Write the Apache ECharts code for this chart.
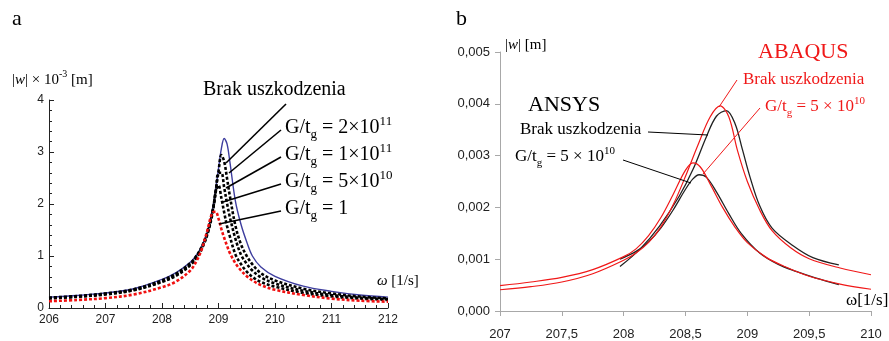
<!DOCTYPE html>
<html><head><meta charset="utf-8">
<script src="https://cdn.jsdelivr.net/npm/echarts@6/dist/echarts.min.js"></script>
<style>html,body{margin:0;padding:0;background:#fff}#c{width:889px;height:341px}</style>
</head><body><div id="c"></div>
<script>
// ---------- Panel a data (|w| x 10^-3 m) ----------
const omegaA = [206, 206.5, 207, 207.5, 208, 208.25, 208.5, 208.6, 208.7, 208.8, 208.9, 208.95, 209.0, 209.05, 209.1, 209.15, 209.2, 209.3, 209.4, 209.5, 209.6, 209.75, 210, 210.5, 211, 211.5, 212];
const brakA  = [0.21,0.24,0.29,0.37,0.55,0.68,0.88,1.00,1.18,1.46,1.92,2.28,2.68,3.06,3.26,3.16,2.82,2.05,1.60,1.27,1.00,0.79,0.61,0.42,0.32,0.25,0.21];
const g2e11A = [0.20,0.23,0.28,0.36,0.53,0.66,0.86,0.99,1.17,1.45,1.90,2.25,2.62,2.94,2.82,2.50,2.16,1.58,1.22,1.00,0.84,0.67,0.53,0.37,0.28,0.22,0.185];
const g1e11A = [0.19,0.22,0.27,0.35,0.51,0.64,0.84,0.97,1.15,1.43,1.88,2.22,2.60,2.60,2.32,2.02,1.75,1.33,1.02,0.85,0.72,0.59,0.47,0.33,0.25,0.20,0.17];
const g5e10A = [0.185,0.215,0.26,0.34,0.50,0.62,0.82,0.95,1.13,1.40,1.85,2.24,2.36,2.12,1.84,1.58,1.38,1.03,0.84,0.70,0.60,0.50,0.41,0.29,0.22,0.18,0.155];
const g1A    = [0.13,0.155,0.19,0.26,0.40,0.51,0.72,0.88,1.12,1.48,1.84,1.85,1.72,1.52,1.35,1.20,1.06,0.86,0.72,0.61,0.53,0.44,0.35,0.25,0.18,0.14,0.12];
const ticksAx = [206, 212, 1];
const ticksAy = [0, 4, 1];

// ---------- Panel b data (|w| m) ----------
const ansysBrakX = [207.97, 208.13, 208.29, 208.45, 208.56, 208.67, 208.75, 208.83, 208.9, 208.96, 209.02, 209.1, 209.2, 209.37, 209.53, 209.74];
const ansysBrakY = [0.00086,0.00119,0.00164,0.00222,0.00273,0.00337,0.00376,0.00387,0.00362,0.00312,0.00260,0.00203,0.00160,0.00126,0.00103,0.00089];
const ansys5X = [207.97, 208.1, 208.2, 208.3, 208.4, 208.5, 208.56, 208.61, 208.67, 208.75, 208.85, 208.95, 209.1, 209.25, 209.4, 209.55, 209.74];
const ansys5Y = [0.00100,0.00115,0.00133,0.00160,0.00195,0.00235,0.00255,0.00263,0.00258,0.00230,0.00188,0.00150,0.00112,0.00090,0.00076,0.00064,0.00051];
const abaqusBrakX = [207, 207.25, 207.5, 207.75, 208, 208.1, 208.2, 208.3, 208.4, 208.5, 208.6, 208.7, 208.78, 208.85, 208.92, 209, 209.1, 209.2, 209.35, 209.5, 209.75, 210];
const abaqusBrakY = [0.00041,0.00047,0.00056,0.00072,0.00098,0.00112,0.00132,0.00162,0.00205,0.00260,0.00320,0.00375,0.00396,0.00375,0.00310,0.00250,0.00195,0.00155,0.00122,0.00101,0.00083,0.00070];
const abaqus5X = [207, 207.25, 207.5, 207.75, 208, 208.1, 208.2, 208.3, 208.4, 208.5, 208.56, 208.62, 208.7, 208.8, 208.9, 209, 209.15, 209.3, 209.5, 209.75, 210];
const abaqus5Y = [0.00049,0.00056,0.00065,0.00080,0.00105,0.00120,0.00145,0.00180,0.00225,0.00272,0.00286,0.00278,0.00245,0.00200,0.00162,0.00132,0.00104,0.00086,0.00067,0.00052,0.00042];
const ticksBx = [207, 210, 0.5];
const ticksBy = [0, 0.005, 0.001];

const pairs = (xs, ys) => xs.map((x, i) => [x, ys[i]]);
const SERIF = '"Liberation Serif","Times New Roman",serif';
const SANS = '"Liberation Sans",Arial,sans-serif';

function richSet(size, color) {
  const lh = size + 6, sm = Math.round(size * 0.66);
  return {
    m: {fontSize: size, fontFamily: SERIF, fill: color, lineHeight: lh},
    i: {fontSize: size, fontFamily: SERIF, fill: color, lineHeight: lh, fontStyle: 'italic'},
    s: {fontSize: sm, fontFamily: SERIF, fill: color, lineHeight: lh / 2, verticalAlign: 'bottom'},
    p: {fontSize: sm, fontFamily: SERIF, fill: color, lineHeight: lh / 2, verticalAlign: 'top'}
  };
}
function txt(x, y, str, size, color) {
  return {type: 'text', x: x, y: y, z: 100,
    style: {text: str, rich: richSet(size, color), fill: color, align: 'left', verticalAlign: 'middle',
            fontSize: size, fontFamily: SERIF}};
}
function ln(x1, y1, x2, y2, color, w) {
  return {type: 'line', z: 100, shape: {x1, y1, x2, y2}, style: {stroke: color, lineWidth: w}};
}

const RED = '#f01818';
const graphics = [
  txt(12, 19, '{m|a}', 22, '#000'),
  txt(456, 19, '{m|b}', 22, '#000'),
  txt(12, 80, '{m||}{i|w}{m|| × 10}{p|-3}{m| [m]}', 15, '#000'),
  txt(377, 281, '{i|ω}{m| [1/s]}', 15, '#000'),
  txt(203, 90, '{m|Brak uszkodzenia}', 20, '#000'),
  txt(285, 128, '{m|G/t}{s|g}{m| = 2×10}{p|11}', 20, '#000'),
  txt(285, 155, '{m|G/t}{s|g}{m| = 1×10}{p|11}', 20, '#000'),
  txt(285, 182, '{m|G/t}{s|g}{m| = 5×10}{p|10}', 20, '#000'),
  txt(285, 209, '{m|G/t}{s|g}{m| = 1}', 20, '#000'),
  ln(286, 104, 226, 163, '#000', 1.6),
  ln(281, 130, 229, 173, '#000', 1.6),
  ln(281, 157, 226, 188, '#000', 1.6),
  ln(281, 184, 223, 202, '#000', 1.6),
  ln(281, 211, 219, 224, '#000', 1.6),
  // panel b
  txt(505, 45, '{m||}{i|w}{m|| [m]}', 15, '#000'),
  txt(846, 301, '{m|ω[1/s]}', 17, '#000'),
  txt(528, 105, '{m|ANSYS}', 22, '#000'),
  txt(758, 52, '{m|ABAQUS}', 22, RED),
  txt(743, 80, '{m|Brak uszkodzenia}', 17, RED),
  txt(765, 107, '{m|G/t}{s|g}{m| = 5 × 10}{p|10}', 17, RED),
  txt(520, 130, '{m|Brak uszkodzenia}', 17, '#000'),
  txt(515, 157, '{m|G/t}{s|g}{m| = 5 × 10}{p|10}', 17, '#000'),
  ln(737, 80, 719, 107, RED, 1),
  ln(760, 108, 703, 174, RED, 1),
  ln(648, 132, 708, 135, '#000', 1),
  ln(623, 160, 691, 183, '#000', 1)
];

function lineSeries(name, xi, yi, data, color, width, dash, z) {
  return {name, type: 'line', xAxisIndex: xi, yAxisIndex: yi, data, showSymbol: false, symbol: 'none',
    smooth: 0.35, z: z, animation: false,
    lineStyle: {color, width, type: dash || 'solid', cap: 'butt'}};
}

const chart = echarts.init(document.getElementById('c'), null, {renderer: 'canvas'});
chart.setOption({
  animation: false,
  backgroundColor: '#fff',
  grid: [
    {left: 49, top: 100, width: 339, height: 208},
    {left: 500, top: 52, width: 371, height: 260}
  ],
  xAxis: [
    {type: 'value', gridIndex: 0, min: ticksAx[0], max: ticksAx[1], interval: ticksAx[2],
     axisLine: {lineStyle: {color: '#222', width: 1}},
     axisTick: {inside: true, length: 5, lineStyle: {color: '#222'}},
     minorTick: {show: true, splitNumber: 5, length: 3, lineStyle: {color: '#222'}},
     splitLine: {show: false},
     axisLabel: {fontFamily: SANS, fontSize: 12, color: '#222', margin: 6}},
    {type: 'value', gridIndex: 1, min: ticksBx[0], max: ticksBx[1], interval: ticksBx[2],
     axisLine: {lineStyle: {color: '#a8a8a8', width: 1}},
     axisTick: {inside: false, length: 5, lineStyle: {color: '#a8a8a8'}},
     splitLine: {show: false},
     axisLabel: {fontFamily: SANS, fontSize: 13, color: '#222', margin: 17,
       formatter: v => String(v).replace('.', ',')}}
  ],
  yAxis: [
    {type: 'value', gridIndex: 0, min: ticksAy[0], max: ticksAy[1], interval: ticksAy[2],
     axisLine: {show: true, lineStyle: {color: '#222', width: 1}},
     axisTick: {show: true, inside: true, length: 5, lineStyle: {color: '#222'}},
     minorTick: {show: true, splitNumber: 5, length: 3, lineStyle: {color: '#222'}},
     splitLine: {show: false},
     axisLabel: {fontFamily: SANS, fontSize: 12, color: '#222', margin: 5}},
    {type: 'value', gridIndex: 1, min: ticksBy[0], max: ticksBy[1], interval: ticksBy[2],
     axisLine: {show: true, lineStyle: {color: '#a8a8a8', width: 1}},
     axisTick: {show: true, inside: false, length: 5, lineStyle: {color: '#a8a8a8'}},
     splitLine: {show: false},
     axisLabel: {fontFamily: SANS, fontSize: 13, color: '#222', margin: 10,
       formatter: v => v.toFixed(3).replace('.', ',')}}
  ],
  series: [
    lineSeries('Brak uszkodzenia', 0, 0, pairs(omegaA, brakA), '#3d3d9e', 1.4, 'solid', 2),
    lineSeries('G/tg = 2e11', 0, 0, pairs(omegaA, g2e11A), '#000', 2.6, [3, 2], 3),
    lineSeries('G/tg = 1e11', 0, 0, pairs(omegaA, g1e11A), '#000', 2.6, [3, 2], 3),
    lineSeries('G/tg = 5e10', 0, 0, pairs(omegaA, g5e10A), '#000', 2.6, [3, 2], 3),
    lineSeries('G/tg = 1', 0, 0, pairs(omegaA, g1A), '#f01010', 2.6, [3, 2], 4),
    lineSeries('ANSYS Brak', 1, 1, pairs(ansysBrakX, ansysBrakY), '#222', 1.3, 'solid', 3),
    lineSeries('ANSYS 5e10', 1, 1, pairs(ansys5X, ansys5Y), '#222', 1.3, 'solid', 3),
    lineSeries('ABAQUS Brak', 1, 1, pairs(abaqusBrakX, abaqusBrakY), RED, 1.2, 'solid', 4),
    lineSeries('ABAQUS 5e10', 1, 1, pairs(abaqus5X, abaqus5Y), RED, 1.2, 'solid', 4)
  ],
  graphic: graphics
});
</script></body></html>
